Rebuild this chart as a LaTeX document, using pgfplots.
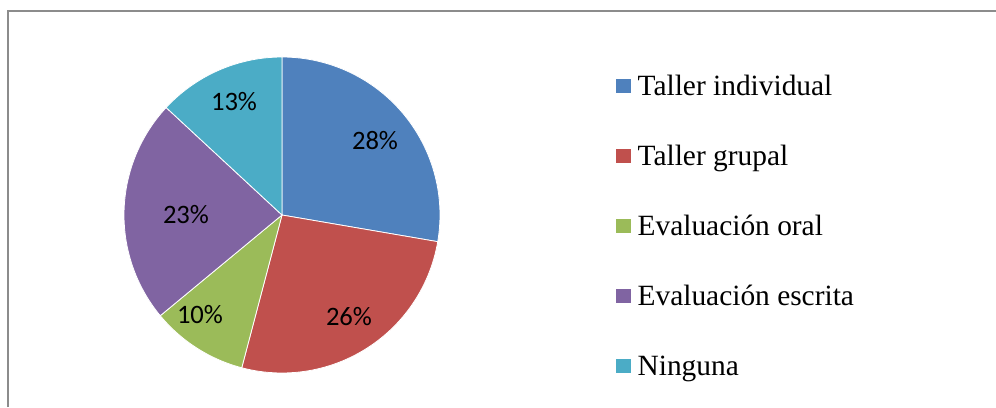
\documentclass[border=0pt]{standalone}
\usepackage{fontspec}
\setmainfont{Liberation Serif}
\newfontfamily\calibri{Carlito}
\usepackage{pgfplots}
\pgfplotsset{compat=1.18}

\definecolor{c1}{HTML}{4F81BD}
\definecolor{c2}{HTML}{C0504D}
\definecolor{c3}{HTML}{9BBB59}
\definecolor{c4}{HTML}{8064A2}
\definecolor{c5}{HTML}{4BACC6}
\definecolor{frame}{HTML}{8C8C8C}

% shares (%): 27.7, 26.4, 9.9, 22.9, 13.1
% slice angles (deg), clockwise from the top
\def\cx{282}\def\cy{192}\def\rr{158}

\begin{document}
\begin{tikzpicture}
\begin{axis}[
    hide axis, scale only axis, clip=false,
    width=498pt, height=203.5pt,
    xmin=0, xmax=996, ymin=0, ymax=407,
    legend style={at={(0.6185,0.8182)}, anchor=north west, draw=none, fill=none,
        inner sep=0pt, outer sep=0pt, row sep=20pt, column sep=3.3pt,
        font=\fontsize{14.7}{18}\selectfont,
        nodes={inner sep=0pt, text height=11pt, text depth=4pt}},
    legend cell align=left,
    legend image code/.code={\fill[#1,draw=none] (0pt,-2pt) rectangle (7.5pt,5pt);},
]
\coordinate (SW) at (axis cs:0,0);
\coordinate (NE) at (axis cs:996,407);
\draw[frame, line width=0.8pt] (axis cs:8,0) -- (axis cs:8,396) -- (axis cs:996,396);

\addplot[fill=c1, draw=white, line width=0.4pt, variable=\t, domain=-9.72:90, samples=60]
    ({\cx+\rr*cos(\t)},{\cy+\rr*sin(\t)}) -- (axis cs:\cx,\cy) -- cycle;
\addlegendentry{Taller individual}
\addplot[fill=c2, draw=white, line width=0.4pt, variable=\t, domain=-104.76:-9.72, samples=60]
    ({\cx+\rr*cos(\t)},{\cy+\rr*sin(\t)}) -- (axis cs:\cx,\cy) -- cycle;
\addlegendentry{Taller grupal}
\addplot[fill=c3, draw=white, line width=0.4pt, variable=\t, domain=-140.4:-104.76, samples=30]
    ({\cx+\rr*cos(\t)},{\cy+\rr*sin(\t)}) -- (axis cs:\cx,\cy) -- cycle;
\addlegendentry{Evaluación oral}
\addplot[fill=c4, draw=white, line width=0.4pt, variable=\t, domain=-222.84:-140.4, samples=60]
    ({\cx+\rr*cos(\t)},{\cy+\rr*sin(\t)}) -- (axis cs:\cx,\cy) -- cycle;
\addlegendentry{Evaluación escrita}
\addplot[fill=c5, draw=white, line width=0.4pt, variable=\t, domain=-270:-222.84, samples=40]
    ({\cx+\rr*cos(\t)},{\cy+\rr*sin(\t)}) -- (axis cs:\cx,\cy) -- cycle;
\addlegendentry{Ninguna}

\begin{scope}[every node/.style={font=\calibri\fontsize{13.3}{15}\selectfont, inner sep=0pt}]
\node at (axis cs:375,266) {28\%};
\node at (axis cs:349,90) {26\%};
\node at (axis cs:200,92) {10\%};
\node at (axis cs:186,192) {23\%};
\node at (axis cs:234,305) {13\%};
\end{scope}
\end{axis}
\pgfresetboundingbox
\path (SW) rectangle (NE);
\end{tikzpicture}
\end{document}
